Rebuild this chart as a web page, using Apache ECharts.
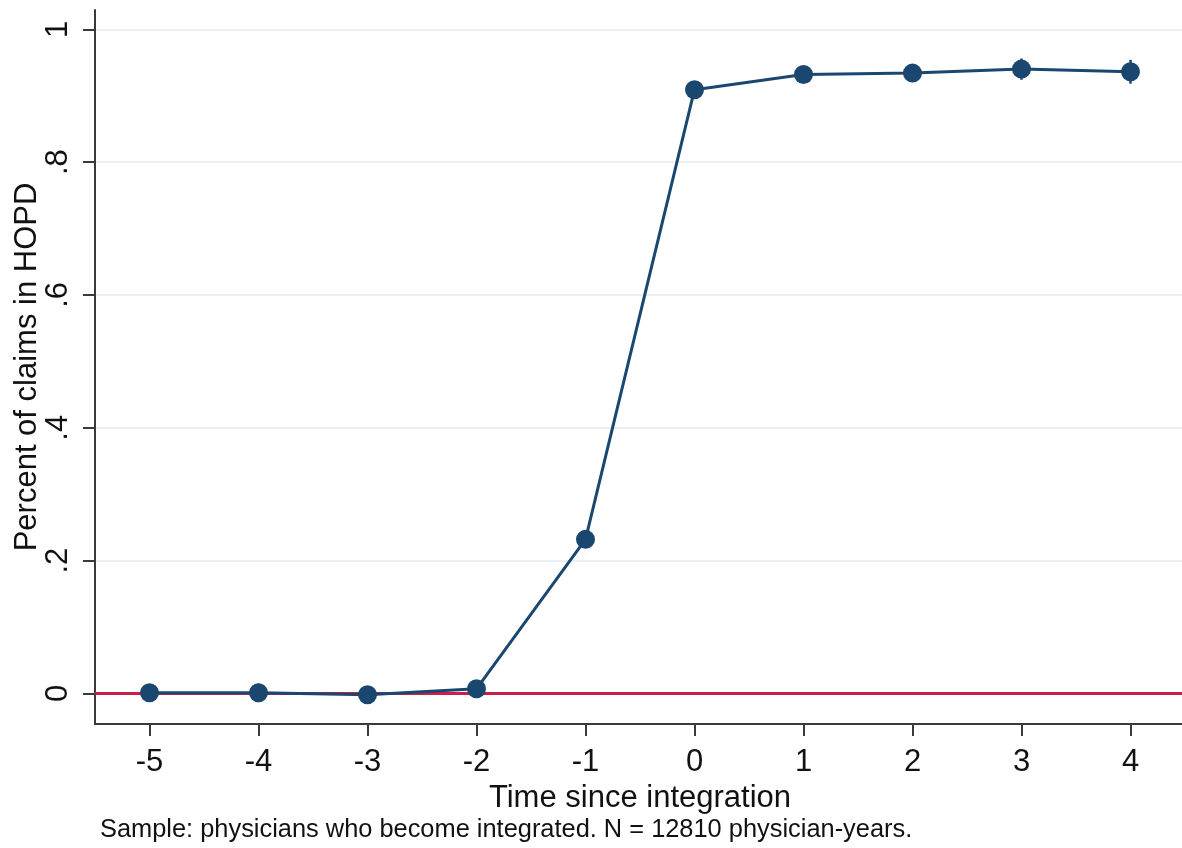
<!DOCTYPE html>
<html>
<head>
<meta charset="utf-8">
<script src="https://cdn.jsdelivr.net/npm/echarts@6/dist/echarts.min.js"></script>
<style>
  html, body { margin: 0; padding: 0; background: #fff; }
  #chart { width: 1182px; height: 848px; }
</style>
</head>
<body>
<div id="chart"></div>
<script>
// Years relative to integration
const periods = ['-5', '-4', '-3', '-2', '-1', '0', '1', '2', '3', '4'];
// Share of claims billed in hospital outpatient departments
const shareHOPD = [0.001, 0.001, -0.002, 0.007, 0.232, 0.909, 0.932, 0.934, 0.940, 0.936];
// 95% confidence bounds
const ciLower = [-0.004, -0.013, -0.011, -0.003, 0.221, 0.899, 0.920, 0.921, 0.924, 0.918];
const ciUpper = [0.006, 0.015, 0.007, 0.017, 0.243, 0.919, 0.944, 0.947, 0.956, 0.954];
// Y axis ticks and their labels
const yTicks = [0, 0.2, 0.4, 0.6, 0.8, 1];
const yTickLabels = ['0', '.2', '.4', '.6', '.8', '1'];

const FONT = "'Liberation Sans', Arial, sans-serif";
const NAVY = '#1a476f';
const CRIMSON = '#cd1d4b';
const AXIS = '#3a3a3a';

const chart = echarts.init(document.getElementById('chart'), null, { renderer: 'canvas' });

chart.setOption({
  animation: false,
  backgroundColor: '#ffffff',
  grid: { left: 95, top: 10, width: 1090, height: 714, containLabel: false, outerBoundsMode: 'none' },
  xAxis: {
    type: 'category',
    data: periods,
    boundaryGap: true,
    name: 'Time since integration',
    nameLocation: 'middle',
    nameGap: 53,
    nameTextStyle: { fontFamily: FONT, fontSize: 31, color: '#111' },
    axisLine: { show: true, onZero: false, lineStyle: { color: AXIS, width: 2 } },
    axisTick: { show: true, alignWithLabel: true, length: 12, lineStyle: { color: AXIS, width: 2 } },
    axisLabel: { fontFamily: FONT, fontSize: 31, color: '#111', margin: 23 },
    splitLine: { show: false }
  },
  yAxis: {
    type: 'value',
    min: -0.046,
    max: 1.029,
    name: 'Percent of claims in HOPD',
    nameLocation: 'middle',
    nameGap: 52,
    nameRotate: 90,
    nameMoveOverlap: false,
    nameTextStyle: { fontFamily: FONT, fontSize: 31, color: '#111' },
    axisLine: { show: true, onZero: false, lineStyle: { color: AXIS, width: 2 } },
    axisTick: { show: true, length: 12, customValues: yTicks, lineStyle: { color: AXIS, width: 2 } },
    axisLabel: {
      customValues: yTicks,
      rotate: 90,
      margin: 21,
      fontFamily: FONT,
      fontSize: 31,
      color: '#111',
      formatter: function (v) {
        const i = yTicks.findIndex(t => Math.abs(t - v) < 1e-9);
        return i >= 0 ? yTickLabels[i] : '';
      }
    },
    splitLine: { show: true, lineStyle: { color: '#e3ecef', width: 1.5 } }
  },
  graphic: [{
    type: 'text',
    left: 100,
    top: 817,
    style: {
      text: 'Sample: physicians who become integrated. N = 12810 physician-years.',
      fontFamily: FONT,
      fontSize: 25.4,
      fill: '#111'
    }
  }],
  series: [
    {
      // confidence spikes, plus the zero reference line
      type: 'custom',
      z: 1,
      data: periods.map((p, i) => [i, ciLower[i], ciUpper[i]]),
      renderItem: function (params, api) {
        const lo = api.coord([api.value(0), api.value(1)]);
        const hi = api.coord([api.value(0), api.value(2)]);
        return {
          type: 'line',
          shape: { x1: lo[0], y1: lo[1], x2: hi[0], y2: hi[1] },
          style: { stroke: NAVY, lineWidth: 2.5 },
          z2: 5
        };
      },
      markLine: {
        silent: true,
        symbol: 'none',
        label: { show: false },
        lineStyle: { color: CRIMSON, width: 3, type: 'solid' },
        data: [{ yAxis: 0 }],
        z: 1
      }
    },
    {
      type: 'line',
      z: 3,
      data: shareHOPD,
      symbol: 'circle',
      symbolSize: 19,
      lineStyle: { color: NAVY, width: 3 },
      itemStyle: { color: NAVY },
      emphasis: { disabled: true }
    }
  ]
});
</script>
</body>
</html>
